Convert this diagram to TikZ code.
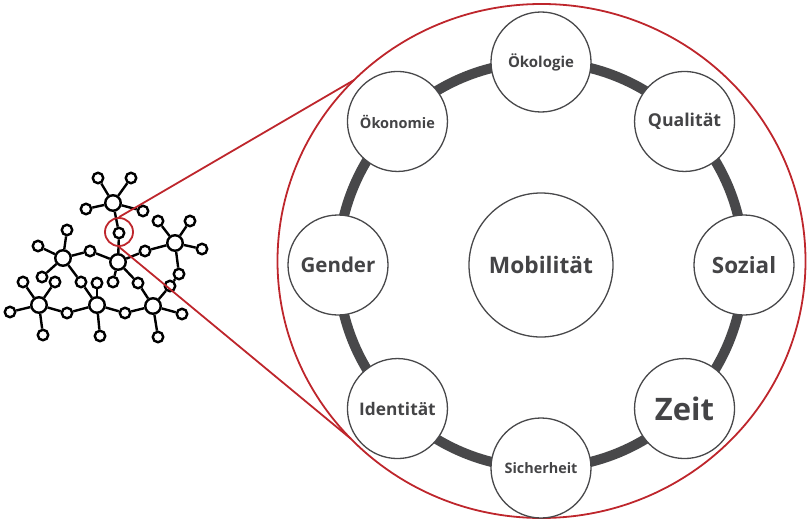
\documentclass[tikz,border=0pt]{standalone}
\usepackage{fontspec}
\setmainfont{Open Sans}
\usetikzlibrary{shapes.geometric,calc}
\definecolor{ringgray}{RGB}{72,72,74}
\definecolor{labelgray}{RGB}{68,68,70}
\definecolor{lensred}{RGB}{190,38,44}
\tikzset{
	hub/.style={circle,draw=black,fill=white,line width=2.4pt,inner sep=0pt,minimum size=15.5pt},
	leaf/.style={circle,draw=black,fill=white,line width=2.4pt,inner sep=0pt,minimum size=10.5pt},
	topic/.style={circle,draw=ringgray,fill=white,line width=1.3pt,inner sep=0pt,minimum size=100pt,text=labelgray},
	red line/.style={draw=lensred,line width=1.8pt}
}
\begin{document}
\begin{tikzpicture}[x=1pt,y=-1pt]
	\useasboundingbox (0,0) rectangle (808,519);

	% small network
	\foreach \n/\x/\y in {h1/113/203,h2/63/258,h3/118/262,h4/175/243,h5/39/305,h6/97/305,h7/153/306}
		\node[hub] (\n) at (\x,\y) {};
	\foreach \n/\x/\y in {c1/119/233,c2/90/251,c3/145/251,c4/81/282,c5/113/282,c6/138/283,c7/67/313,c8/125/313,c9/179/274,c10/170/286,
		l1/98/178,l2/131/178,l3/86/209,l4/143/211,l5/67/230,l6/38/246,l7/42/277,l8/158/221,l9/190/221,l10/202/249,
		l11/23/282,l12/55/282,l13/10/312,l14/43/335,l15/100/336,l16/97/283,l17/182/314,l18/158/337}
		\node[leaf] (\n) at (\x,\y) {};
	\foreach \a/\b in {h1/l1,h1/l2,h1/l3,h1/l4,h1/c1,c1/h3,h2/l5,h2/l6,h2/l7,h2/c2,c2/h3,h2/c4,c4/h6,
		h3/c3,c3/h4,h3/c5,h3/c6,c6/h7,h4/l8,h4/l9,h4/l10,h4/c9,c9/c10,c10/h7,
		h5/l11,h5/l12,h5/l13,h5/l14,h5/c7,c7/h6,h6/l15,h6/l16,h6/c8,c8/h7,h7/l17,h7/l18}
		\draw[line width=2.4pt] (\a) -- (\b);

	% magnifier
	\node[red line,circle,inner sep=0pt,minimum size=28pt] (spot) at (119,232) {};
	\node[red line,ellipse,inner sep=0pt,outer sep=0pt,minimum width=528pt,minimum height=514pt] (lens) at (541.5,261) {};
	\draw[red line] (spot.north) -- (lens.136);
	\draw[red line] (spot.south) -- (lens.223);

	% ring of topics
	\node[topic,minimum size=144pt,font=\bfseries\fontsize{22.7}{24}\selectfont] (mob) at (541,265) {Mobilität};
	\draw[ringgray,line width=10pt] (mob.center) circle [radius=203];
	\foreach \ang/\n/\txt/\fs in {-90/oeko/Ökologie/15,-45/qual/Qualität/17.7,0/sozi/Sozial/22.4,45/zeit/Zeit/31,
		90/sich/Sicherheit/14.4,135/iden/Identität/17.3,180/gend/Gender/20.5,225/okon/Ökonomie/14.5}
		\node[topic,font=\bfseries\fontsize{\fs}{\fs}\selectfont] (\n) at ($(mob.center)+(\ang:203)$) {\txt};
\end{tikzpicture}
\end{document}
